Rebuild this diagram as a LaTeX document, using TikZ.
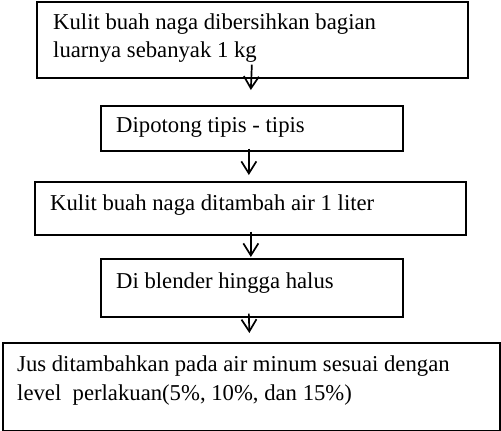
\documentclass[tikz,border=0pt]{standalone}
\usepackage{fontspec}
\setmainfont{Liberation Serif}
\usetikzlibrary{arrows.meta}
\begin{document}
\begin{tikzpicture}[x=1pt,y=1pt,
  box/.style={draw=black, line width=1.7pt, rectangle, anchor=north west, inner sep=0pt},
  lbl/.style={anchor=base west, inner sep=0pt, font=\fontsize{22.7}{27}\selectfont},
  arr/.style={draw=black, line width=1.7pt, -{Straight Barb[length=12pt,width=15pt,line width=1.7pt]}}]
\useasboundingbox (0,0) rectangle (501,-431);
% boxes
\node[box, minimum width=431pt, minimum height=76pt] (b1) at (36,-1) {};
\node[box, minimum width=302pt, minimum height=45pt] (b2) at (100,-105) {};
\node[box, minimum width=431pt, minimum height=53pt] (b3) at (34,-181) {};
\node[box, minimum width=302pt, minimum height=58pt] (b4) at (100,-258) {};
\node[box, minimum width=497pt, minimum height=88pt] (b5) at (2,-342) {};
% texts
\node[lbl] (t1a) at (53,-30) {Kulit buah naga dibersihkan bagian};
\node[lbl] (t1b) at (53,-57) {luarnya sebanyak 1 kg};
\node[lbl] (t2) at (116,-132) {Dipotong tipis - tipis};
\node[lbl] (t3) at (50,-210) {Kulit buah naga ditambah air 1 liter};
\node[lbl] (t4) at (116,-288) {Di blender hingga halus};
\node[lbl] (t5a) at (17,-371) {Jus ditambahkan pada air minum sesuai dengan};
\node[lbl] (t5b) at (17,-400) {level\ \ perlakuan(5\%, 10\%, dan 15\%)};
% arrows
\draw[arr] ([xshift=-0.5pt,yshift=14pt]b1.south) -- ([xshift=-1pt,yshift=15pt]b2.north);
\draw[arr] ([xshift=-3pt,yshift=3pt]b2.south) -- ([xshift=-1.5pt,yshift=6pt]b3.north);
\draw[arr] ([xshift=0.5pt,yshift=4pt]b3.south) -- ([xshift=-1pt,yshift=1pt]b4.north);
\draw[arr] ([xshift=-3pt,yshift=4pt]b4.south) -- ([xshift=-2pt,yshift=9pt]b5.north);
\end{tikzpicture}
\end{document}
